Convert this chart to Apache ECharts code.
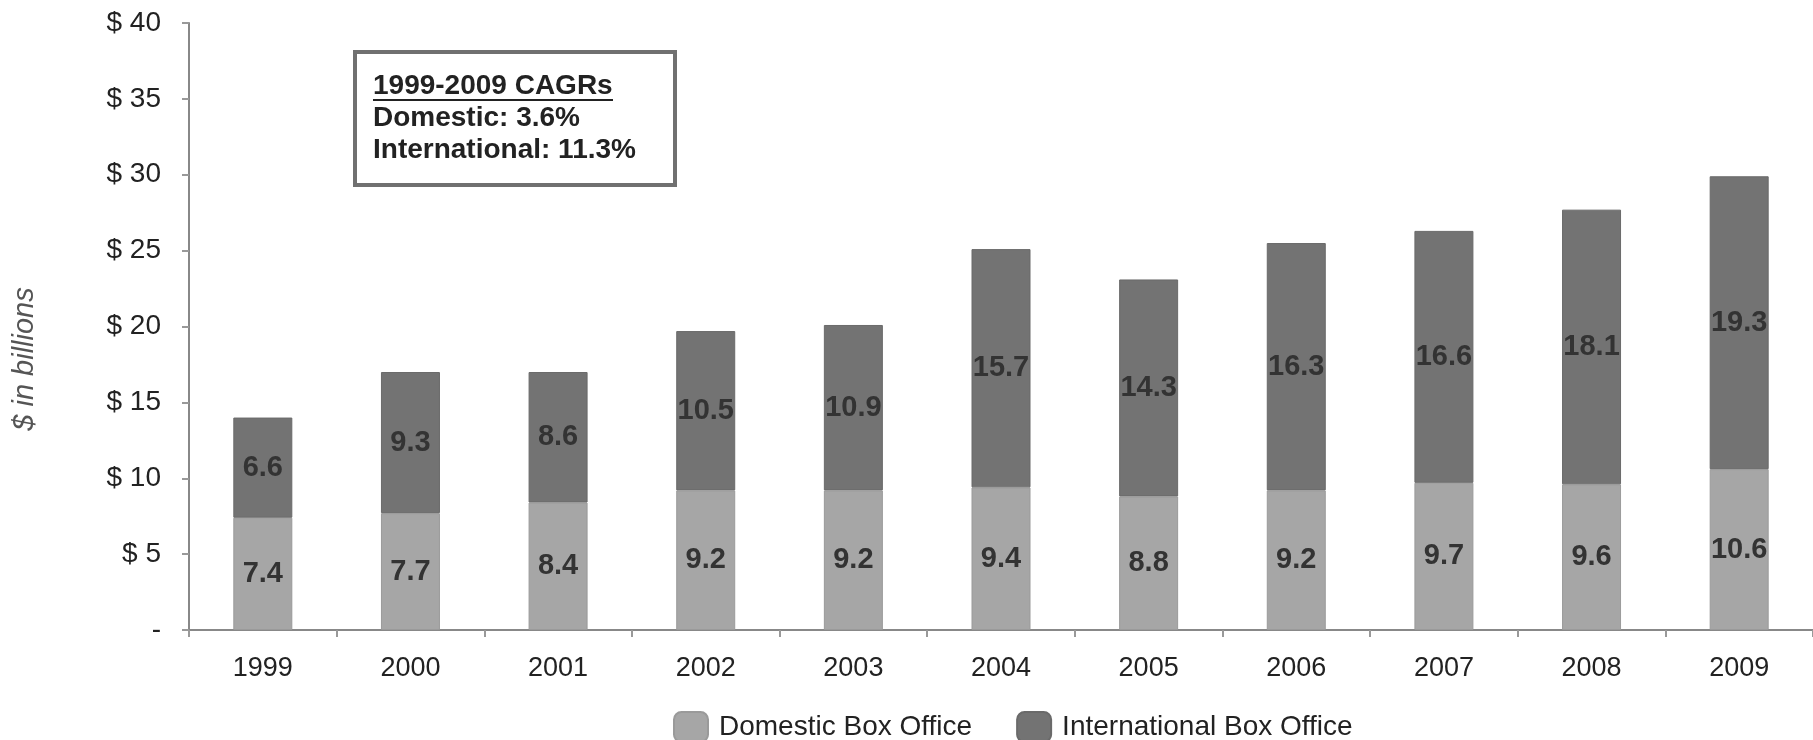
<!DOCTYPE html>
<html>
<head>
<meta charset="utf-8">
<script src="https://cdn.jsdelivr.net/npm/echarts@6/dist/echarts.min.js"></script>
<style>
  html, body { margin: 0; padding: 0; background: #fff; }
  #chart { width: 1813px; height: 740px; }
</style>
</head>
<body>
<div id="chart"></div>
<script>
// Box office revenue, $ billions
const years = ['1999', '2000', '2001', '2002', '2003', '2004', '2005', '2006', '2007', '2008', '2009'];
const domestic = [7.4, 7.7, 8.4, 9.2, 9.2, 9.4, 8.8, 9.2, 9.7, 9.6, 10.6];
const international = [6.6, 9.3, 8.6, 10.5, 10.9, 15.7, 14.3, 16.3, 16.6, 18.1, 19.3];
const seriesNames = ['Domestic Box Office', 'International Box Office'];
const yTicks = [0, 5, 10, 15, 20, 25, 30, 35, 40];
const yAxisTitle = '$ in billions';
const cagrTitle = '1999-2009 CAGRs';
const cagrLines = ['Domestic: 3.6%', 'International: 11.3%'];

const FONT = '"Liberation Sans", Arial, sans-serif';
const chart = echarts.init(document.getElementById('chart'));

const barLabel = {
  show: true,
  position: 'inside',
  fontFamily: FONT,
  fontWeight: 'bold',
  fontSize: 29,
  color: '#333'
};

chart.setOption({
  animation: false,
  backgroundColor: '#fff',
  grid: { left: 189, right: 0, top: 23, bottom: 110, containLabel: false },
  legend: {
    data: seriesNames,
    top: 706,
    left: 668,
    itemWidth: 34,
    itemHeight: 30,
    itemGap: 44,
    textStyle: { fontFamily: FONT, fontSize: 28, color: '#222', padding: [0, 0, 0, 6] }
  },
  xAxis: {
    type: 'category',
    data: years,
    axisLine: { lineStyle: { color: '#888', width: 2 } },
    axisTick: { show: true, alignWithLabel: false, length: 7, lineStyle: { color: '#999', width: 2 } },
    axisLabel: { fontFamily: FONT, fontSize: 27, color: '#222', margin: 25 }
  },
  yAxis: {
    type: 'value',
    min: yTicks[0],
    max: yTicks[yTicks.length - 1],
    interval: yTicks[1] - yTicks[0],
    axisLine: { show: true, lineStyle: { color: '#888', width: 2 } },
    axisTick: { show: true, length: 7, lineStyle: { color: '#999', width: 2 } },
    splitLine: { show: false },
    axisLabel: {
      fontFamily: FONT, fontSize: 28, color: '#222', margin: 28,
      formatter: v => (v === 0 ? '-' : '$ ' + v)
    }
  },
  series: [
    {
      name: seriesNames[0],
      type: 'bar',
      stack: 'total',
      data: domestic,
      barWidth: 59,
      itemStyle: { color: '#a6a6a6', borderColor: '#9a9a9a', borderWidth: 1 },
      label: barLabel
    },
    {
      name: seriesNames[1],
      type: 'bar',
      stack: 'total',
      data: international,
      barWidth: 59,
      itemStyle: { color: '#737373', borderColor: '#6a6a6a', borderWidth: 1 },
      label: barLabel
    }
  ],
  graphic: [
    {
      // rotated value-axis title
      type: 'text',
      x: 25,
      y: 359,
      rotation: Math.PI / 2,
      style: {
        text: yAxisTitle,
        font: 'italic 29px ' + FONT,
        fill: '#555',
        textAlign: 'center',
        textVerticalAlign: 'middle'
      }
    },
    {
      // CAGR call-out box
      type: 'group',
      left: 353,
      top: 50,
      children: [
        {
          type: 'rect',
          shape: { x: 2, y: 2, width: 320, height: 133 },
          style: { fill: '#fff', stroke: '#707070', lineWidth: 4 }
        },
        {
          type: 'text',
          x: 20, y: 36,
          style: { text: cagrTitle, font: 'bold 28px ' + FONT, fill: '#222', textVerticalAlign: 'middle' }
        },
        {
          type: 'line',
          shape: { x1: 20, y1: 50, x2: 260, y2: 50 },
          style: { stroke: '#222', lineWidth: 2 }
        },
        {
          type: 'text',
          x: 20, y: 68,
          style: { text: cagrLines[0], font: 'bold 28px ' + FONT, fill: '#222', textVerticalAlign: 'middle' }
        },
        {
          type: 'text',
          x: 20, y: 100,
          style: { text: cagrLines[1], font: 'bold 28px ' + FONT, fill: '#222', textVerticalAlign: 'middle' }
        }
      ]
    }
  ]
});
</script>
</body>
</html>
